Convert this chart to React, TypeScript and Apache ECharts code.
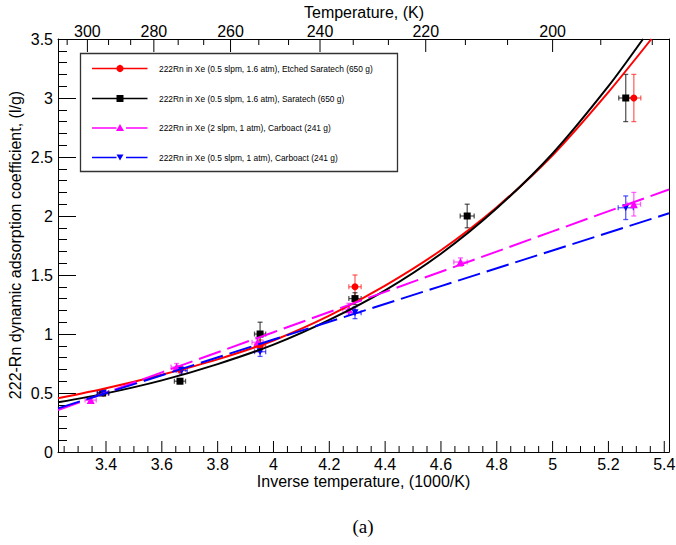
import React, { useEffect, useRef } from "react";
import * as echarts from "echarts";

// Axis ranges
const X_MIN = 3.228;
const X_MAX = 5.417;
const Y_MIN = 0;
const Y_MAX = 3.5;

// Bottom axis (inverse temperature) ticks
const X_MAJOR_TICKS = [3.4, 3.6, 3.8, 4.0, 4.2, 4.4, 4.6, 4.8, 5.0, 5.2, 5.4];
const X_MINOR_FIRST = 3.25;
const X_MINOR_STEP = 0.05;

// Top axis (temperature, K) ticks
const TEMP_MAJOR_TICKS = [300, 280, 260, 240, 220, 200];
const TEMP_MINOR_TICKS = [
  306.67, 293.33, 286.67, 273.33, 266.67, 253.33, 246.67, 233.33, 226.67,
  213.33, 206.67, 193.33, 186.67,
];

// Series names
const NAME_RED = "222Rn in Xe (0.5 slpm, 1.6 atm), Etched Saratech (650 g)";
const NAME_BLACK = "222Rn in Xe (0.5 slpm, 1.6 atm), Saratech (650 g)";
const NAME_MAGENTA = "222Rn in Xe (2 slpm, 1 atm), Carboact (241 g)";
const NAME_BLUE = "222Rn in Xe (0.5 slpm, 1 atm), Carboact (241 g)";

// Measurements: x = 1000/T, y = adsorption coefficient (l/g), with errors
const RED_X = [3.39, 3.665, 3.952, 4.292, 5.291];
const RED_Y = [0.5, 0.7, 0.9, 1.4, 3.0];
const RED_XERR = [0.02, 0.02, 0.02, 0.022, 0.025];
const RED_YERR = [0.02, 0.03, 0.05, 0.1, 0.2];

const BLACK_X = [3.388, 3.665, 3.952, 4.292, 4.694, 5.262];
const BLACK_Y = [0.5, 0.6, 1.0, 1.3, 2.0, 3.0];
const BLACK_XERR = [0.02, 0.02, 0.02, 0.022, 0.025, 0.025];
const BLACK_YERR = [0.02, 0.02, 0.1, 0.05, 0.1, 0.2];

const MAGENTA_X = [3.345, 3.653, 3.943, 4.27, 4.67, 5.291];
const MAGENTA_Y = [0.44, 0.72, 0.93, 1.21, 1.61, 2.1];
const MAGENTA_XERR = [0.02, 0.02, 0.02, 0.022, 0.024, 0.024];
const MAGENTA_YERR = [0.02, 0.03, 0.04, 0.05, 0.035, 0.1];

const BLUE_X = [3.39, 3.671, 3.952, 4.292, 5.262];
const BLUE_Y = [0.5, 0.69, 0.85, 1.18, 2.07];
const BLUE_XERR = [0.02, 0.02, 0.02, 0.022, 0.027];
const BLUE_YERR = [0.02, 0.03, 0.04, 0.05, 0.1];

// Fitted curves
const RED_FIT_X = [3.228, 3.4, 3.6, 3.8, 4.0, 4.2, 4.4, 4.6, 4.8, 5.0, 5.2, 5.354];
const RED_FIT_Y = [0.455, 0.54, 0.655, 0.785, 0.945, 1.155, 1.41, 1.71, 2.075, 2.515, 3.05, 3.5];
const BLACK_FIT_X = [3.228, 3.4, 3.6, 3.8, 4.0, 4.2, 4.4, 4.6, 4.8, 5.0, 5.2, 5.324];
const BLACK_FIT_Y = [0.421, 0.497, 0.607, 0.745, 0.91, 1.12, 1.37, 1.68, 2.065, 2.53, 3.1, 3.5];
const MAGENTA_FIT_X = [3.228, 3.6, 4.0, 4.3, 4.6, 5.0, 5.417];
const MAGENTA_FIT_Y = [0.355, 0.675, 1.015, 1.272, 1.528, 1.87, 2.225];
const BLUE_FIT_X = [3.228, 3.6, 4.0, 4.3, 4.6, 5.0, 5.417];
const BLUE_FIT_Y = [0.37, 0.651, 0.953, 1.179, 1.406, 1.708, 2.023];

const FONT = "Liberation Sans, Arial, Helvetica, sans-serif";
const RED = "#ff0000";
const BLACK = "#000000";
const MAGENTA = "#ff00ff";
const BLUE = "#0000ff";
const DASH = [23, 7];

const pairs = (xs: number[], ys: number[]) => xs.map((x, i) => [x, ys[i]]);
const quads = (xs: number[], ys: number[], ex: number[], ey: number[]) =>
  xs.map((x, i) => [x, ys[i], ex[i], ey[i]]);

const errorBars = (color: string) => (_params: any, api: any) => {
  const x = api.value(0);
  const y = api.value(1);
  const ex = api.value(2);
  const ey = api.value(3);
  const c = api.coord([x, y]);
  const l = api.coord([x - ex, y]);
  const r = api.coord([x + ex, y]);
  const t = api.coord([x, y + ey]);
  const b = api.coord([x, y - ey]);
  const cap = 2.5;
  const st = { stroke: color, lineWidth: 1.3 };
  return {
    type: "group",
    children: [
      { type: "line", shape: { x1: l[0], y1: c[1], x2: r[0], y2: c[1] }, style: st },
      { type: "line", shape: { x1: c[0], y1: t[1], x2: c[0], y2: b[1] }, style: st },
      { type: "line", shape: { x1: l[0], y1: c[1] - cap, x2: l[0], y2: c[1] + cap }, style: st },
      { type: "line", shape: { x1: r[0], y1: c[1] - cap, x2: r[0], y2: c[1] + cap }, style: st },
      { type: "line", shape: { x1: c[0] - cap, y1: t[1], x2: c[0] + cap, y2: t[1] }, style: st },
      { type: "line", shape: { x1: c[0] - cap, y1: b[1], x2: c[0] + cap, y2: b[1] }, style: st },
    ],
  };
};

const fitSeries = (name: string, xs: number[], ys: number[], color: string, dashed: boolean) => ({
  name,
  type: "line",
  data: pairs(xs, ys),
  showSymbol: false,
  smooth: dashed ? false : 0.25,
  silent: true,
  clip: true,
  lineStyle: { color, width: 2, type: dashed ? DASH : "solid" },
});

const errSeries = (xs: number[], ys: number[], ex: number[], ey: number[], color: string) => ({
  type: "custom",
  silent: true,
  clip: false,
  encode: { x: 0, y: 1 },
  data: quads(xs, ys, ex, ey),
  renderItem: errorBars(color),
});

const markSeries = (name: string, xs: number[], ys: number[], color: string, symbol: string, size: number, rotate = 0) => ({
  name,
  type: "scatter",
  data: pairs(xs, ys),
  symbol,
  symbolSize: size,
  symbolRotate: rotate,
  silent: true,
  itemStyle: { color, opacity: 1 },
});

function buildBottomTicks() {
  const out: number[][] = [];
  X_MAJOR_TICKS.forEach((v) => out.push([v, Y_MIN, 1]));
  for (let v = X_MINOR_FIRST; v <= X_MAX + 1e-9; v += X_MINOR_STEP) {
    const r = Math.round(v * 100) / 100;
    if (!X_MAJOR_TICKS.some((m) => Math.abs(m - r) < 1e-6)) out.push([r, Y_MIN, 0]);
  }
  return out;
}

function buildTopTicks() {
  const out: number[][] = [];
  TEMP_MAJOR_TICKS.forEach((t) => out.push([1000 / t, Y_MAX, t, 1]));
  TEMP_MINOR_TICKS.forEach((t) => out.push([1000 / t, Y_MAX, t, 0]));
  return out;
}

const textStyle = (text: string, align: string, size = 16, family = FONT) => ({
  text,
  fill: "#000",
  fontSize: size,
  fontFamily: family,
  align,
  verticalAlign: "middle",
  textAlign: align,
  textVerticalAlign: "middle",
});

export default function App() {
  const ref = useRef<HTMLDivElement>(null);

  useEffect(() => {
    document.body.style.margin = "0";
    if (!ref.current) return;
    const chart = echarts.init(ref.current, undefined, { renderer: "svg" });

    const legendRows = [
      { y: 68.5, name: NAME_RED, color: RED, marker: "circle", dashed: false },
      { y: 98.5, name: NAME_BLACK, color: BLACK, marker: "square", dashed: false },
      { y: 128, name: NAME_MAGENTA, color: MAGENTA, marker: "up", dashed: true },
      { y: 157.5, name: NAME_BLUE, color: BLUE, marker: "down", dashed: true },
    ];
    const legendEls: any[] = [
      {
        type: "rect",
        z: 100,
        shape: { x: 80.5, y: 53.5, width: 317, height: 118 },
        style: { fill: "#fff", stroke: "#333", lineWidth: 1.3 },
      },
    ];
    legendRows.forEach((r) => {
      const ls = { stroke: r.color, lineWidth: 1.5 };
      if (r.dashed) {
        legendEls.push({ type: "line", z: 101, shape: { x1: 92, y1: r.y, x2: 116.5, y2: r.y }, style: ls });
        legendEls.push({ type: "line", z: 101, shape: { x1: 126, y1: r.y, x2: 147.5, y2: r.y }, style: ls });
      } else {
        legendEls.push({ type: "line", z: 101, shape: { x1: 92, y1: r.y, x2: 147.5, y2: r.y }, style: ls });
      }
      if (r.marker === "circle") {
        legendEls.push({ type: "circle", z: 102, shape: { cx: 120, cy: r.y, r: 3.6 }, style: { fill: r.color } });
      } else if (r.marker === "square") {
        legendEls.push({ type: "rect", z: 102, shape: { x: 116.5, y: r.y - 3.5, width: 7, height: 7 }, style: { fill: r.color } });
      } else if (r.marker === "up") {
        legendEls.push({ type: "polygon", z: 102, shape: { points: [[120, r.y - 4], [116, r.y + 3], [124, r.y + 3]] }, style: { fill: r.color } });
      } else {
        legendEls.push({ type: "polygon", z: 102, shape: { points: [[116.5, r.y - 3], [123.5, r.y - 3], [120, r.y + 3]] }, style: { fill: r.color } });
      }
      legendEls.push({
        type: "text",
        z: 102,
        x: 159,
        y: r.y,
        style: textStyle(r.name, "left", 8.4),
      });
    });

    const option: any = {
      animation: false,
      backgroundColor: "#ffffff",
      grid: { left: 58, right: 7, top: 39, bottom: 93, containLabel: false },
      xAxis: [
        {
          type: "value",
          position: "bottom",
          min: X_MIN,
          max: X_MAX,
          axisLine: { show: true, onZero: false, lineStyle: { color: "#000", width: 1 } },
          axisTick: { show: false },
          axisLabel: { show: false },
          splitLine: { show: false },
        },
        {
          type: "value",
          position: "top",
          min: X_MIN,
          max: X_MAX,
          axisLine: { show: true, onZero: false, lineStyle: { color: "#000", width: 1 } },
          axisTick: { show: false },
          axisLabel: { show: false },
          splitLine: { show: false },
        },
      ],
      yAxis: [
        {
          type: "value",
          position: "left",
          min: Y_MIN,
          max: Y_MAX,
          interval: 0.5,
          axisLine: { show: true, onZero: false, lineStyle: { color: "#000", width: 1 } },
          axisTick: { show: true, inside: true, length: 18, lineStyle: { color: "#000", width: 1 } },
          minorTick: { show: true, splitNumber: 5, length: 9, lineStyle: { color: "#000", width: 1 } },
          axisLabel: { show: true, margin: 5, color: "#000", fontSize: 16, fontFamily: FONT },
          splitLine: { show: false },
        },
        {
          type: "value",
          position: "right",
          min: Y_MIN,
          max: Y_MAX,
          axisLine: { show: true, onZero: false, lineStyle: { color: "#000", width: 1 } },
          axisTick: { show: false },
          axisLabel: { show: false },
          splitLine: { show: false },
        },
      ],
      graphic: [
        { type: "text", x: 363.5, y: 481, style: textStyle("Inverse temperature, (1000/K)", "center") },
        { type: "text", x: 364, y: 12, style: textStyle("Temperature, (K)", "center") },
        {
          type: "text",
          x: 15,
          y: 245,
          rotation: Math.PI / 2,
          style: textStyle("222-Rn dynamic adsorption coefficient, (l/g)", "center"),
        },
        {
          type: "text",
          x: 363,
          y: 526,
          style: textStyle("(a)", "center", 19, "Liberation Serif, Times New Roman, serif"),
        },
        ...legendEls,
      ],
      series: [
        fitSeries(NAME_RED, RED_FIT_X, RED_FIT_Y, RED, false),
        fitSeries(NAME_BLACK, BLACK_FIT_X, BLACK_FIT_Y, BLACK, false),
        fitSeries(NAME_MAGENTA, MAGENTA_FIT_X, MAGENTA_FIT_Y, MAGENTA, true),
        fitSeries(NAME_BLUE, BLUE_FIT_X, BLUE_FIT_Y, BLUE, true),
        errSeries(RED_X, RED_Y, RED_XERR, RED_YERR, "rgba(255,0,0,0.6)"),
        markSeries(NAME_RED, RED_X, RED_Y, RED, "circle", 7),
        errSeries(BLACK_X, BLACK_Y, BLACK_XERR, BLACK_YERR, "rgba(0,0,0,0.65)"),
        markSeries(NAME_BLACK, BLACK_X, BLACK_Y, BLACK, "rect", 7),
        errSeries(MAGENTA_X, MAGENTA_Y, MAGENTA_XERR, MAGENTA_YERR, "rgba(255,0,255,0.6)"),
        markSeries(NAME_MAGENTA, MAGENTA_X, MAGENTA_Y, MAGENTA, "triangle", 8),
        errSeries(BLUE_X, BLUE_Y, BLUE_XERR, BLUE_YERR, "rgba(0,0,255,0.65)"),
        markSeries(NAME_BLUE, BLUE_X, BLUE_Y, BLUE, "triangle", 7, 180),
        {
          // bottom axis ticks and labels
          type: "custom",
          silent: true,
          clip: false,
          z: 5,
          encode: { x: 0, y: 1 },
          data: buildBottomTicks(),
          renderItem: (_p: any, api: any) => {
            const v = api.value(0);
            const major = api.value(2) === 1;
            const p = api.coord([v, Y_MIN]);
            const children: any[] = [
              {
                type: "line",
                shape: { x1: p[0], y1: p[1], x2: p[0], y2: p[1] - (major ? 11 : 6) },
                style: { stroke: "#000", lineWidth: 1 },
              },
            ];
            if (major) {
              children.push({
                type: "text",
                x: p[0],
                y: p[1] + 12,
                style: textStyle(String(Number(v.toFixed(2))), "center"),
              });
            }
            return { type: "group", children };
          },
        },
        {
          // top axis: temperature ticks placed at 1000/T
          type: "custom",
          silent: true,
          clip: false,
          z: 5,
          encode: { x: 0, y: 1 },
          data: buildTopTicks(),
          renderItem: (_p: any, api: any) => {
            const x = api.value(0);
            const t = api.value(2);
            const major = api.value(3) === 1;
            const p = api.coord([x, Y_MAX]);
            const children: any[] = [
              {
                type: "line",
                shape: { x1: p[0], y1: p[1], x2: p[0], y2: p[1] + (major ? 13 : 6) },
                style: { stroke: "#000", lineWidth: 1 },
              },
            ];
            if (major) {
              children.push({
                type: "text",
                x: p[0],
                y: p[1] - 8,
                style: textStyle(String(Math.round(t)), "center"),
              });
            }
            return { type: "group", children };
          },
        },
      ],
    };

    chart.setOption(option);
    return () => chart.dispose();
  }, []);

  return <div ref={ref} style={{ width: 676, height: 545 }} />;
}
